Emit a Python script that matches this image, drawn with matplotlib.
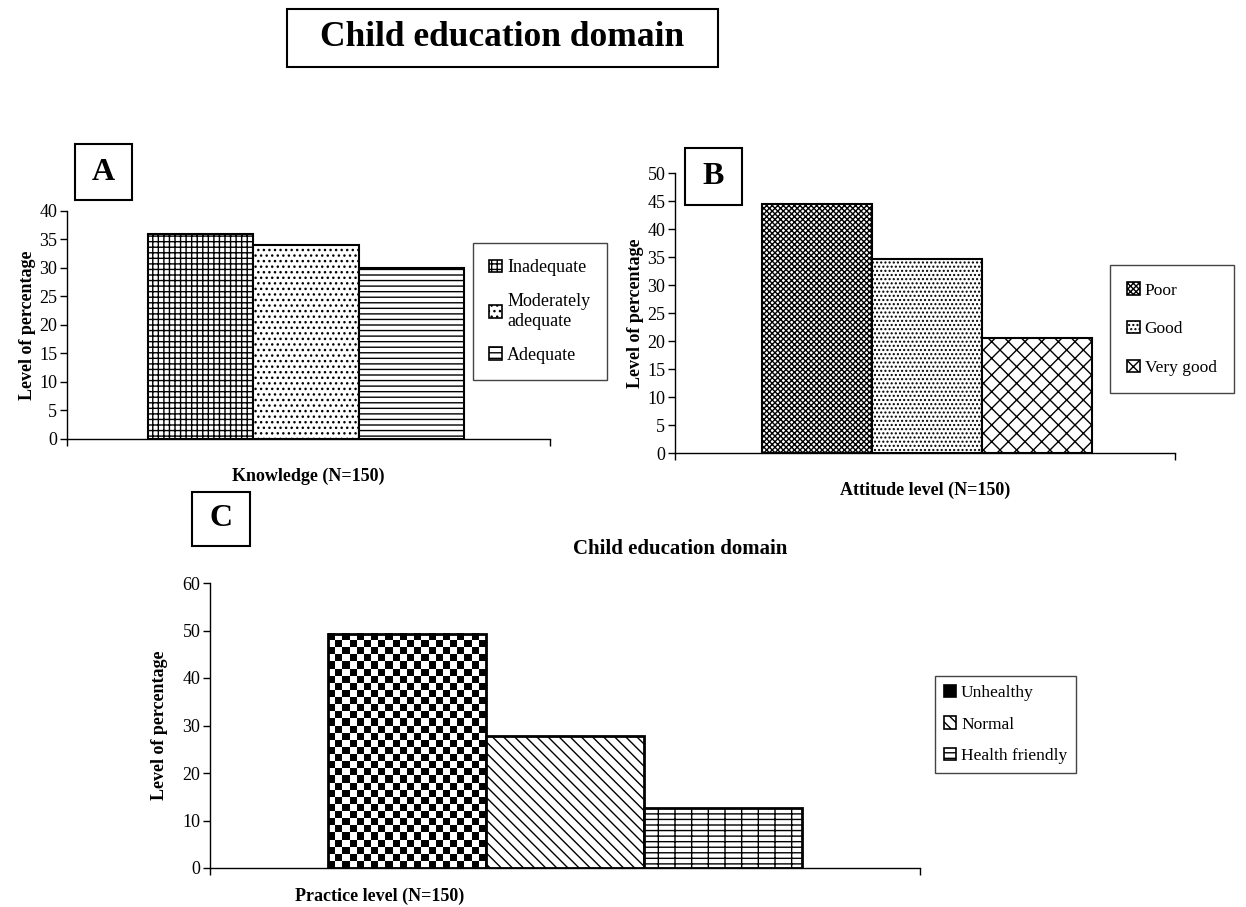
import numpy as np
import matplotlib.pyplot as plt
from matplotlib.patches import Patch, Rectangle

plt.rcParams['font.family'] = ['Liberation Serif', 'DejaVu Serif']
plt.rcParams['hatch.linewidth'] = 1.0

# knowledge, attitude and practice levels (% of N=150)
knowledge_labels = ['Inadequate', 'Moderately\nadequate', 'Adequate']
knowledge_values = [36.0, 34.0, 30.0]
attitude_labels = ['Poor', 'Good', 'Very good']
attitude_values = [44.5, 34.7, 20.6]
practice_labels = ['Unhealthy', 'Normal', 'Health friendly']
practice_values = [49.3, 27.8, 12.7]

W, H = 1246, 907
fig = plt.figure(figsize=(W / 100, H / 100), dpi=100)


def px_axes(x0, x1, y_top, y_bot):
    return fig.add_axes([x0 / W, 1 - y_bot / H, (x1 - x0) / W, (y_bot - y_top) / H])


def px_box(x0, x1, y0, y1):
    fig.add_artist(Rectangle((x0 / W, 1 - y1 / H), (x1 - x0) / W, (y1 - y0) / H,
                             transform=fig.transFigure, facecolor='white',
                             edgecolor='black', linewidth=1.5))


def draw_panel(ax, values, hatches, ymax, step, bar_l, bar_r, ax_l, ax_r, fs, lw=1.5):
    unit = (bar_r - bar_l) / 3
    bars = []
    for i, (v, h) in enumerate(zip(values, hatches)):
        bars.append(ax.bar(i, v, width=1.0, color='white', edgecolor='black',
                           hatch=h, linewidth=lw, zorder=2)[0])
    lo = -0.5 - (bar_l - ax_l) / unit
    hi = 2.5 + (ax_r - bar_r) / unit
    ax.set_xlim(lo, hi)
    ax.set_ylim(0, ymax)
    ax.set_yticks(range(0, ymax + 1, step))
    ax.set_xticks([lo, hi])
    ax.set_xticklabels([])
    ax.tick_params(axis='y', labelsize=fs, length=5, width=1, pad=2)
    ax.tick_params(axis='x', length=5, width=1)
    for s in ['top', 'right']:
        ax.spines[s].set_visible(False)
    for s in ['left', 'bottom']:
        ax.spines[s].set_linewidth(1)
    ax.patch.set_alpha(0)
    return bars


def panel_letter(x0, x1, y0, y1, letter):
    px_box(x0, x1, y0, y1)
    fig.text((x0 + x1) / 2 / W, 1 - (y0 + y1) / 2 / H, letter, fontsize=23,
             fontweight='bold', ha='center', va='center')


def legend_box(labels, hatches, x, y, fs, spacing, pad):
    handles = [Patch(facecolor='white', edgecolor='black', hatch=h, linewidth=1.2)
               for h in hatches]
    leg = fig.legend(handles, labels, loc='upper left',
                     bbox_to_anchor=(x / W, 1 - y / H), fontsize=fs,
                     handlelength=0.7, handleheight=0.7, handletextpad=0.3,
                     labelspacing=spacing, borderpad=pad, borderaxespad=0,
                     fancybox=False, framealpha=1, edgecolor='#444444')
    leg.get_frame().set_linewidth(1)
    return leg


# overall heading
px_box(287, 718, 9, 67)
fig.text(502 / W, 1 - 38 / H, 'Child education domain', fontsize=25.5,
         fontweight='bold', ha='center', va='center')

# A: knowledge
hatch_a = ['+++', '...', '---']
ax_a = px_axes(67, 550, 211, 439)
draw_panel(ax_a, knowledge_values, hatch_a, 40, 5, 148, 464, 67, 550, 13)
ax_a.set_ylabel('Level of percentage', fontsize=13, fontweight='bold', labelpad=2)
ax_a.set_xlabel('Knowledge (N=150)', fontsize=13, fontweight='bold', labelpad=12)
leg_a = legend_box(knowledge_labels, hatch_a, 473, 243, 13, 0.9, 0.9)
leg_a.get_texts()[1].set_linespacing(1.3)
panel_letter(75, 132, 144, 200, 'A')

# B: attitude
hatch_b = ['xxxxxx', '....', 'xx']
ax_b = px_axes(675, 1175, 173, 453)
draw_panel(ax_b, attitude_values, hatch_b, 50, 5, 762, 1092, 675, 1175, 13)
ax_b.set_ylabel('Level of percentage', fontsize=13, fontweight='bold', labelpad=2)
ax_b.set_xlabel('Attitude level (N=150)', fontsize=13, fontweight='bold', labelpad=12)
legend_box(attitude_labels, hatch_b, 1110, 265, 12.5, 1.3, 1.0)
panel_letter(685, 742, 148, 205, 'B')

# C: practice
hatch_c = ['', '\\\\\\', '---|']
ax_c = px_axes(210, 920, 583, 868)
bars_c = draw_panel(ax_c, practice_values, hatch_c, 60, 10, 328, 802, 210, 920, 13, lw=2)
# checkerboard fill for the first bar
b = bars_c[0]
b.set_facecolor('none')
nx = 22
ny = int(round(nx * (b.get_height() / 60 * 285) / 158))
checker = (np.add.outer(np.arange(ny), np.arange(nx)) % 2).astype(float)
ax_c.imshow(checker, cmap='gray', interpolation='nearest', aspect='auto',
            extent=(b.get_x(), b.get_x() + b.get_width(), 0, b.get_height()),
            zorder=1.5)
ax_c.set_xlim(-0.5 - 118 / 158, 2.5 + 118 / 158)
ax_c.set_ylim(0, 60)
ax_c.set_ylabel('Level of percentage', fontsize=13, fontweight='bold', labelpad=10)
ax_c.set_xlabel('Practice level (N=150)', fontsize=13, fontweight='bold')
ax_c.xaxis.set_label_coords((380 - 210) / 710, -0.07)
fig.text(680 / W, 1 - 549 / H, 'Child education domain', fontsize=15,
         fontweight='bold', ha='center', va='center')
leg_c = legend_box(practice_labels, ['', '\\\\\\', '---|'], 935, 676, 12.5, 0.9, 0.5)
leg_c.legend_handles[0].set_facecolor('black')
panel_letter(192, 250, 492, 546, 'C')

fig.savefig('out.png', dpi=100, facecolor='white')
